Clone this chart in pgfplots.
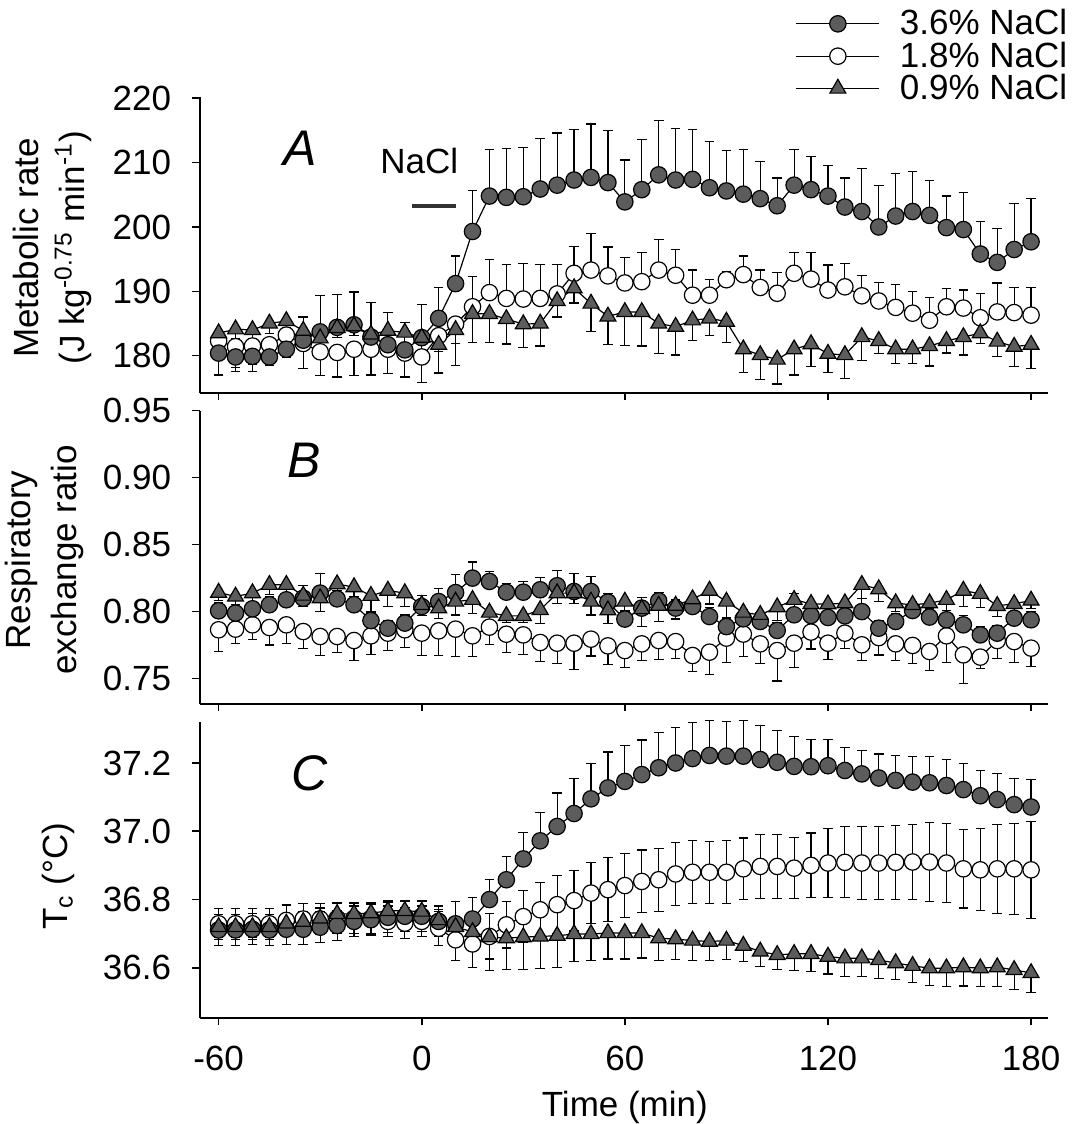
\documentclass[border=0pt]{standalone}
\usepackage{fontspec}
\setmainfont{Liberation Sans}
\usepackage{pgfplots}
\pgfplotsset{compat=1.18}
\usepackage{pgfplotstable}

\definecolor{mgray}{RGB}{92,92,92}

% t, 3.6% (F), 1.8% (O), 0.9% (T); p = error up, m = error down
\pgfplotstableread{
t F Fp Fm O Op Om T Tp Tm
-60 180.4 0 3.4 182.3 0 1.5 183.5 0 1.5
-55 179.8 0 2.3 181.4 0 3.3 184.1 0 1.4
-50 179.9 0 2.4 181.5 0 2.8 184.0 0 1.4
-45 179.8 0 1.3 181.7 0 2.0 185.0 0 1.5
-40 181.0 0 1.2 183.2 1.2 1.2 185.4 0 1.2
-35 182.4 3.6 0 181.9 0 3.9 183.9 0 1.5
-30 183.7 5.6 0 180.6 0 3.7 182.7 0 1.5
-25 184.4 5.1 0 180.5 0 3.8 184.3 0 1.5
-20 184.8 5.1 0 181.0 0 4.1 184.6 0 1.5
-15 182.9 5.4 0 181.0 0 4.0 183.3 0 1.8
-10 181.7 5.0 0 181.0 0 3.8 183.9 0 2.0
-5 180.9 4.3 0 180.4 0 3.7 183.6 0 2.0
0 182.8 5.1 0 179.8 0 4.0 182.8 0 2.0
5 185.8 4.75 0 183.1 0 2.5 181.7 0 4.4
10 191.2 4.3 0 184.9 0 3.0 184.0 0 5.5
15 199.3 6.4 0 187.6 4.7 0 186.5 0 4.5
20 204.8 7.3 0 189.8 5.1 0 186.5 0 4.4
25 204.6 7.6 0 188.9 5.3 0 185.7 0 3.9
30 204.7 7.6 0 188.8 5.5 0 184.9 0 3.6
35 205.9 7.8 0 188.9 5.3 0 185.0 0 3.5
40 206.5 8.1 0 189.6 4.6 0 188.5 0 2.5
45 207.3 7.9 0 192.8 4.2 0 190.5 0 2.3
50 207.7 8.3 0 193.3 5.7 0 188.1 0 4.4
55 206.9 8.1 0 192.4 4.5 0 186.1 0 4.4
60 203.9 6.5 0 191.3 4.0 0 186.8 0 5.2
65 205.8 7.8 0 191.5 4.5 0 186.8 0 5.3
70 208.1 8.5 0 193.3 4.8 0 185.0 0 4.7
75 207.3 8.0 0 192.5 4.0 0 184.5 0 4.4
80 207.4 7.7 0 189.4 3.9 0 185.5 0 3.1
85 206.1 7.2 0 189.4 2.4 0 185.8 0 2.7
90 205.6 6.3 0 191.8 1.3 0 185.3 0 3.3
95 205.1 7.0 0 192.6 2.9 0 181.0 0 3.6
100 204.4 5.8 0 190.6 2.7 0 180.1 0 3.8
105 203.3 4.3 0 189.7 3.2 0 179.4 0 3.8
110 206.5 5.5 0 192.8 3.2 0 181.0 0 4.0
115 205.8 5.2 0 191.9 4.1 0 181.8 0 3.5
120 204.8 4.7 0 190.2 3.9 0 180.3 0 2.9
125 203.1 4.5 0 190.7 3.6 0 180.1 0 3.6
130 202.4 6.7 0 189.3 3.1 0 182.9 0 3.6
135 200.0 6.5 0 188.5 2.9 0 182.3 0 2.0
140 201.7 6.6 0 187.5 3.5 0 181.0 0 2.2
145 202.4 6.2 0 186.6 3.4 0 181.0 0 2.2
150 201.8 5.4 0 185.5 3.5 0 181.5 0 3.1
155 199.9 4.9 0 187.6 2.8 0 182.3 0 1.9
160 199.6 5.7 0 187.4 2.8 0 182.9 0 2.8
165 195.8 5.0 0 185.9 3.8 0 183.5 0 1.6
170 194.5 5.3 0 186.8 4.5 0 182.2 0 2.3
175 196.5 7.1 0 186.7 3.9 0 181.4 0 3.1
180 197.7 6.7 0 186.3 4.3 0 181.7 0 3.7
}\dataA

\pgfplotstableread{
t F Fp Fm O Op Om T Tp Tm
-60 0.8006 0.006 0 0.7864 0 0.016 0.8142 0 0.006
-55 0.7989 0.005 0 0.7869 0 0.0105 0.8113 0 0.006
-50 0.8021 0.005 0 0.7901 0 0.011 0.8138 0 0.006
-45 0.8051 0.006 0 0.7881 0 0.013 0.8200 0 0.007
-40 0.8088 0.008 0 0.7901 0 0.0137 0.8200 0 0.008
-35 0.8100 0.0095 0 0.7851 0 0.0125 0.8120 0 0.008
-30 0.8138 0.0145 0 0.7814 0 0.0142 0.8100 0 0.010
-25 0.8095 0.006 0 0.7814 0 0.0117 0.8205 0 0.006
-20 0.8051 0.006 0 0.7784 0 0.015 0.8183 0 0.007
-15 0.7933 0.006 0 0.7819 0 0.0137 0.8118 0 0.012
-10 0.7876 0.006 0 0.7839 0 0.013 0.8157 0 0.012
-5 0.7914 0.006 0 0.7864 0 0.013 0.8138 0 0.010
0 0.8038 0.008 0 0.7839 0 0.0167 0.8050 0 0.008
5 0.8075 0.010 0 0.7856 0 0.0184 0.8026 0 0.008
10 0.8142 0.0137 0 0.7869 0 0.0204 0.8075 0 0.010
15 0.8250 0.012 0 0.7819 0 0.0154 0.8088 0 0.010
20 0.8225 0.0075 0 0.7884 0 0.0132 0.7993 0 0.006
25 0.8145 0.0067 0 0.7831 0 0.0134 0.7968 0 0.005
30 0.8145 0.008 0 0.7826 0 0.0145 0.7968 0 0.005
35 0.8163 0.0092 0 0.7769 0 0.0142 0.8013 0 0.010
40 0.8193 0.0115 0 0.7764 0 0.0154 0.8138 0 0.008
45 0.8150 0.0137 0 0.7764 0 0.0194 0.8138 0 0.008
50 0.8150 0.011 0 0.7794 0 0.0125 0.8075 0 0.010
55 0.8071 0.0065 0 0.7744 0 0.0142 0.8010 0 0.010
60 0.7944 0.006 0 0.7709 0 0.0127 0.8075 0 0.018
65 0.8026 0.008 0 0.7759 0 0.0127 0.8019 0 0.013
70 0.8080 0.0062 0 0.7784 0 0.0144 0.8045 0 0.012
75 0.8026 0.006 0 0.7776 0 0.0124 0.8045 0 0.010
80 0.8038 0.007 0 0.7672 0 0.012 0.8093 0 0.008
85 0.7963 0.007 0 0.7697 0 0.0167 0.8157 0 0.010
90 0.7888 0.006 0 0.7802 0 0.018 0.8075 0 0.012
95 0.7946 0.007 0 0.7832 0 0.0167 0.7993 0 0.008
100 0.7926 0.007 0 0.7759 0 0.0144 0.7976 0 0.008
105 0.7859 0.006 0 0.7709 0 0.0227 0.8033 0 0.010
110 0.7976 0.016 0 0.7764 0 0.0182 0.8088 0 0.008
115 0.7971 0.008 0 0.7847 0 0.0127 0.8058 0 0.006
120 0.7956 0.007 0 0.7764 0 0.012 0.8055 0 0.006
125 0.7968 0.007 0 0.7839 0 0.0112 0.8063 0 0.006
130 0.8000 0.010 0 0.7752 0 0.012 0.8200 0 0.010
135 0.7876 0.006 0 0.7806 0 0.013 0.8168 0 0.009
140 0.7926 0.006 0 0.7759 0 0.0127 0.8063 0 0.006
145 0.8008 0.007 0 0.7747 0 0.0132 0.8050 0 0.006
150 0.7959 0.006 0 0.7702 0 0.0142 0.8063 0 0.006
155 0.7939 0.007 0 0.7819 0 0.0197 0.8088 0 0.008
160 0.7901 0.007 0 0.7677 0 0.0212 0.8157 0 0.012
165 0.7826 0.006 0 0.7660 0 0.0087 0.8133 0 0.010
170 0.7839 0.006 0 0.7784 0 0.0132 0.8043 0 0.008
175 0.7951 0.007 0 0.7776 0 0.0157 0.8058 0 0.006
180 0.7939 0.006 0 0.7727 0 0.0137 0.8083 0 0.006
}\dataB

\pgfplotstableread{
t F Fp Fm O Op Om T Tp Tm
-60 36.711 0.045 0.045 36.729 0.045 0.045 36.720 0.03 0.03
-55 36.711 0.045 0.045 36.729 0.045 0.045 36.720 0.03 0.03
-50 36.713 0.045 0.045 36.729 0.045 0.045 36.720 0.03 0.03
-45 36.711 0.045 0.045 36.729 0.045 0.045 36.720 0.03 0.03
-40 36.713 0.045 0.045 36.739 0.045 0.045 36.730 0.03 0.03
-35 36.713 0.045 0.045 36.743 0.045 0.045 36.735 0.03 0.03
-30 36.719 0.045 0.045 36.743 0.045 0.045 36.745 0.03 0.03
-25 36.724 0.045 0.045 36.745 0.045 0.045 36.758 0.03 0.03
-20 36.736 0.045 0.045 36.745 0.045 0.045 36.758 0.03 0.03
-15 36.741 0.045 0.045 36.745 0.045 0.045 36.760 0.03 0.03
-10 36.748 0.045 0.045 36.736 0.045 0.045 36.767 0.03 0.03
-5 36.751 0.045 0.045 36.731 0.045 0.045 36.767 0.03 0.03
0 36.751 0.045 0.045 36.736 0.045 0.045 36.765 0.03 0.03
5 36.736 0.045 0.045 36.716 0.05 0.05 36.740 0.03 0.03
10 36.729 0.065 0.045 36.682 0.06 0.06 36.720 0.03 0.03
15 36.743 0.062 0 36.670 0.07 0.07 36.705 0 0.05
20 36.800 0.059 0 36.692 0.066 0.066 36.690 0 0.098
25 36.858 0.068 0 36.726 0.068 0.068 36.687 0 0.093
30 36.919 0.077 0 36.750 0.076 0.076 36.690 0 0.094
35 36.972 0.083 0 36.770 0.080 0.080 36.692 0 0.093
40 37.014 0.098 0 36.785 0.086 0.086 36.694 0 0.092
45 37.052 0.102 0 36.797 0.089 0.089 36.699 0 0.080
50 37.095 0.103 0 36.819 0.090 0.090 36.699 0 0.077
55 37.127 0.105 0 36.829 0.093 0.093 36.702 0 0.076
60 37.146 0.105 0 36.841 0.094 0.094 36.702 0 0.076
65 37.166 0.101 0 36.853 0.092 0.092 36.702 0 0.073
70 37.186 0.103 0 36.858 0.092 0.092 36.687 0 0.065
75 37.200 0.105 0 36.875 0.092 0.092 36.684 0 0.059
80 37.213 0.105 0 36.880 0.092 0.092 36.680 0 0.059
85 37.222 0.103 0 36.880 0.091 0.091 36.677 0 0.056
90 37.220 0.102 0 36.880 0.092 0.092 36.680 0 0.055
95 37.220 0.105 0 36.890 0.090 0.090 36.665 0 0.046
100 37.210 0.100 0 36.897 0.093 0.093 36.648 0 0.044
105 37.202 0.092 0 36.897 0.093 0.093 36.638 0 0.042
110 37.190 0.088 0 36.892 0.090 0.090 36.641 0 0.049
115 37.189 0.080 0 36.900 0.095 0.095 36.641 0 0.052
120 37.192 0.076 0 36.907 0.102 0.102 36.633 0 0.051
125 37.178 0.067 0 36.909 0.104 0.104 36.628 0 0.054
130 37.168 0.069 0 36.907 0.106 0.106 36.628 0 0.054
135 37.156 0.070 0 36.907 0.107 0.107 36.623 0 0.054
140 37.149 0.072 0 36.909 0.109 0.109 36.614 0 0.047
145 37.144 0.076 0 36.910 0.110 0.110 36.606 0 0.049
150 37.142 0.078 0 36.910 0.115 0.115 36.599 0 0.051
155 37.134 0.076 0 36.907 0.115 0.115 36.599 0 0.054
160 37.122 0.076 0 36.890 0.115 0.115 36.602 0 0.055
165 37.104 0.074 0 36.887 0.120 0.120 36.599 0 0.054
170 37.093 0.075 0 36.890 0.130 0.130 36.602 0 0.057
175 37.078 0.076 0 36.890 0.133 0.133 36.594 0 0.057
180 37.071 0.080 0 36.887 0.142 0.142 36.585 0 0.057
}\dataC

\pgfplotsset{
  panel/.style={
    scale only axis, width=424pt,
    xmin=-65.5, xmax=185,
    axis x line=bottom, axis y line=left,
    axis line style={-, line width=0.8pt, black},
    tick align=outside, major tick length=3.75pt,
    tick style={line width=0.8pt, black},
    xtick={-60,0,60,120,180},
    tick label style={font=\fontsize{17.5}{20}\selectfont, inner sep=0pt},
    xticklabel style={yshift=-10pt},
    yticklabel style={xshift=-10.5pt},
    /pgf/number format/assume math mode=true,
    ylabel style={align=center, font=\fontsize{17.5}{23}\selectfont},
    clip=false,
    error bars/y dir=both, error bars/y explicit,
    error bars/error bar style={line width=0.6pt, black},
    error bars/error mark options={rotate=90, mark size=2.4pt, line width=0.6pt, black},
  },
  s36/.style={black, line width=0.6pt, mark=*, mark size=4.1pt,
    mark options={fill=mgray, draw=black, line width=0.6pt}},
  s18/.style={black, line width=0.6pt, mark=*, mark size=4.1pt,
    mark options={fill=white, draw=black, line width=0.6pt}},
  s09/.style={black, line width=0.6pt, mark=triangle*, mark size=4.6pt,
    mark options={fill=mgray, draw=black, line width=0.6pt}},
}

\begin{document}
\begin{tikzpicture}
\useasboundingbox (0,0) rectangle (538pt,562pt);

% Panel A
\begin{axis}[panel, at={(100pt,365.5pt)}, anchor=south west, height=148pt,
  ymin=174.2, ymax=220.2, ytick={180,190,200,210,220},
  yticklabels={180,190,200,210,220},
  xticklabels={},
  ylabel={Metabolic rate\\(J kg\textsuperscript{-0.75} min\textsuperscript{-1})},
  ylabel style={at={(axis description cs:-0.1745,0.49)}, anchor=center},
  legend image code/.code={\draw[mark repeat=2,mark phase=2,#1] plot coordinates {(0pt,0pt) (20.75pt,0pt) (41.5pt,0pt)};},
  legend style={at={(axis description cs:0.695,1.31)}, anchor=north west,
    draw=none, fill=none, font=\fontsize{17.5}{20}\selectfont,
    nodes={inner sep=0pt}, row sep=2pt, column sep=10pt},
  legend cell align=left]
\addlegendimage{s36}\addlegendentry{3.6\% NaCl}
\addlegendimage{s18}\addlegendentry{1.8\% NaCl}
\addlegendimage{s09}\addlegendentry{0.9\% NaCl}
\addplot[s18, forget plot] table[x=t, y=O, y error plus=Op, y error minus=Om] {\dataA};
\addplot[s36, forget plot] table[x=t, y=F, y error plus=Fp, y error minus=Fm] {\dataA};
\addplot[s09, forget plot] table[x=t, y=T, y error plus=Tp, y error minus=Tm] {\dataA};
\node[font=\fontsize{25}{30}\selectfont\itshape] at (axis cs:-35.8,212.3) {A};
\node[font=\fontsize{17.5}{20}\selectfont] at (axis cs:-0.7,210.2) {NaCl};
\draw[line width=2pt, black!80] (axis cs:-3,203.2) -- (axis cs:10,203.2);
\end{axis}

% Panel B
\begin{axis}[panel, at={(100pt,210pt)}, anchor=south west, height=146.65pt,
  ymin=0.731, ymax=0.95, ytick={0.75,0.80,0.85,0.90,0.95},
  yticklabels={0.75,0.80,0.85,0.90,0.95},
  xticklabels={},
  ylabel={Respiratory\\exchange ratio},
  ylabel style={at={(axis description cs:-0.183,0.491)}, anchor=center}]
\addplot[s18] table[x=t, y=O, y error plus=Op, y error minus=Om] {\dataB};
\addplot[s36] table[x=t, y=F, y error plus=Fp, y error minus=Fm] {\dataB};
\addplot[s09] table[x=t, y=T, y error plus=Tp, y error minus=Tm] {\dataB};
\node[font=\fontsize{25}{30}\selectfont\itshape] at (axis cs:-34.6,0.9126) {B};
\end{axis}

% Panel C
\begin{axis}[panel, at={(100pt,53.15pt)}, anchor=south west, height=147.85pt,
  ymin=36.454, ymax=37.32, ytick={36.6,36.8,37.0,37.2},
  yticklabels={36.6,36.8,37.0,37.2},
  xticklabels={-60,0,60,120,180},
  ylabel={T\textsubscript{c} (°C)},
  ylabel style={at={(axis description cs:-0.167,0.479)}, anchor=center},
  xlabel={Time (min)},
  xlabel style={at={(axis description cs:0.501,-0.305)}, anchor=center,
    font=\fontsize{17.5}{20}\selectfont}]
\addplot[s18] table[x=t, y=O, y error plus=Op, y error minus=Om] {\dataC};
\addplot[s36] table[x=t, y=F, y error plus=Fp, y error minus=Fm] {\dataC};
\addplot[s09] table[x=t, y=T, y error plus=Tp, y error minus=Tm] {\dataC};
\node[font=\fontsize{25}{30}\selectfont\itshape] at (axis cs:-33.1,37.169) {C};
\end{axis}
\end{tikzpicture}
\end{document}
